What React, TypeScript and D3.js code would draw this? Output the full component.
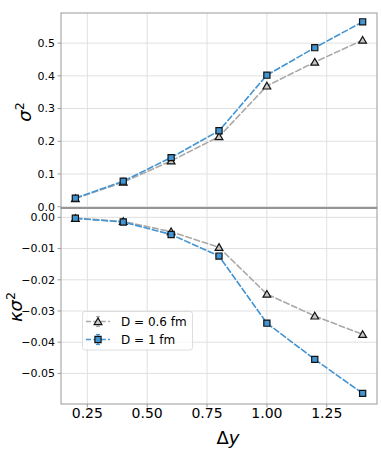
import React, { useEffect, useRef } from "react";
import * as d3 from "d3";

// delta y values
const dy = [0.2, 0.4, 0.6, 0.8, 1.0, 1.2, 1.4];

// sigma^2
const sigma2D06 = [0.025, 0.075, 0.14, 0.214, 0.369, 0.442, 0.509];
const sigma2D1 = [0.026, 0.078, 0.15, 0.232, 0.402, 0.486, 0.565];

// kappa sigma^2
const kappaD06 = [-0.0003, -0.0013, -0.0046, -0.0096, -0.0246, -0.0316, -0.0375];
const kappaD1 = [-0.0003, -0.0015, -0.0055, -0.0124, -0.0339, -0.0455, -0.0564];

const xTicks = [0.25, 0.5, 0.75, 1.0, 1.25];
const topTicks = [0.0, 0.1, 0.2, 0.3, 0.4, 0.5];
const botTicks = [0.0, -0.01, -0.02, -0.03, -0.04, -0.05];

const seriesLabels = ["D = 0.6 fm", "D = 1 fm"];

const GRAY = "#a9a9a9";
const BLUE = "#4394d2";

const App = () => {
  const svgRef = useRef<SVGSVGElement>(null);

  useEffect(() => {
    const svg = d3.select(svgRef.current);
    svg.selectAll("*").remove();

    const left = 61, right = 377, top = 13, mid = 208, bottom = 404;

    const x = d3.scaleLinear().domain([0.14, 1.46]).range([left, right]);
    const yTop = d3.scaleLinear().domain([-0.004, 0.592]).range([mid, top]);
    const yBot = d3.scaleLinear().domain([0.003, -0.0598]).range([mid, bottom]);

    const font = "DejaVu Sans, sans-serif";

    const panel = (y: d3.ScaleLinear<number, number>, ticks: number[], fmt: (v: number) => string, y0: number, y1: number) => {
      const g = svg.append("g");
      // grid
      g.selectAll(".vg").data(xTicks).enter().append("line")
        .attr("x1", (d) => x(d)).attr("x2", (d) => x(d))
        .attr("y1", y0).attr("y2", y1)
        .attr("stroke", "#dcdcdc").attr("stroke-width", 0.9);
      g.selectAll(".hg").data(ticks).enter().append("line")
        .attr("x1", left).attr("x2", right)
        .attr("y1", (d) => y(d)).attr("y2", (d) => y(d))
        .attr("stroke", "#dcdcdc").attr("stroke-width", 0.9);
      // tick marks + labels
      g.selectAll(".tk").data(ticks).enter().append("line")
        .attr("x1", left - 3.5).attr("x2", left)
        .attr("y1", (d) => y(d)).attr("y2", (d) => y(d))
        .attr("stroke", "#888").attr("stroke-width", 0.8);
      g.selectAll(".tl").data(ticks).enter().append("text")
        .attr("x", left - 6).attr("y", (d) => y(d))
        .attr("dy", "0.35em").attr("text-anchor", "end")
        .attr("font-family", font).attr("font-size", 11)
        .text((d) => fmt(d));
      // frame
      g.append("rect").attr("x", left).attr("y", y0)
        .attr("width", right - left).attr("height", y1 - y0)
        .attr("fill", "none").attr("stroke", "#999").attr("stroke-width", 1);
    };

    const fmtTop = (v: number) => v.toFixed(1);
    const fmtBot = (v: number) => (v < 0 ? "\u2212" + Math.abs(v).toFixed(2) : v.toFixed(2));
    panel(yTop, topTicks, fmtTop, top, mid);
    panel(yBot, botTicks, fmtBot, mid, bottom);

    // separator between panels
    svg.append("line").attr("x1", left).attr("x2", right)
      .attr("y1", mid).attr("y2", mid)
      .attr("stroke", "#8c8c8c").attr("stroke-width", 1.6);

    // x tick marks + labels
    svg.selectAll(".xt").data(xTicks).enter().append("line")
      .attr("x1", (d) => x(d)).attr("x2", (d) => x(d))
      .attr("y1", bottom).attr("y2", bottom + 3.5)
      .attr("stroke", "#888").attr("stroke-width", 0.8);
    svg.selectAll(".xl").data(xTicks).enter().append("text")
      .attr("x", (d) => x(d)).attr("y", bottom + 14)
      .attr("text-anchor", "middle").attr("font-family", font).attr("font-size", 14)
      .text((d) => d.toFixed(2));

    const drawSeries = (yScale: d3.ScaleLinear<number, number>, vals: number[], color: string, marker: string) => {
      const pts = dy.map((d, i) => [x(d), yScale(vals[i])] as [number, number]);
      svg.append("path").attr("d", d3.line()(pts))
        .attr("fill", "none").attr("stroke", color).attr("stroke-width", 1.6)
        .attr("stroke-dasharray", "7,1.6");
      const sym = d3.symbol().type(marker === "tri" ? d3.symbolTriangle : d3.symbolSquare)
        .size(marker === "tri" ? 26 : 38);
      svg.selectAll(null).data(pts).enter().append("path")
        .attr("d", sym()!)
        .attr("transform", (p) => `translate(${p[0]},${p[1] + (marker === "tri" ? 0.8 : 0)})`)
        .attr("fill", marker === "tri" ? "#c8c8c8" : color)
        .attr("stroke", "#111").attr("stroke-width", 1.2);
    };

    drawSeries(yTop, sigma2D06, GRAY, "tri");
    drawSeries(yTop, sigma2D1, BLUE, "sq");
    drawSeries(yBot, kappaD06, GRAY, "tri");
    drawSeries(yBot, kappaD1, BLUE, "sq");

    // legend
    const lg = svg.append("g");
    lg.append("rect").attr("x", 82.5).attr("y", 311.5).attr("width", 110).attr("height", 38.5)
      .attr("rx", 2.5).attr("fill", "white").attr("fill-opacity", 0.8)
      .attr("stroke", "#d6d6d6").attr("stroke-width", 0.8);
    [GRAY, BLUE].forEach((c, i) => {
      const cy = 321.5 + i * 18;
      lg.append("line").attr("x1", 86).attr("x2", 110).attr("y1", cy).attr("y2", cy)
        .attr("stroke", c).attr("stroke-width", 1.6).attr("stroke-dasharray", "5,2.4");
      lg.append("line").attr("x1", 98).attr("x2", 98).attr("y1", cy - 5).attr("y2", cy + 5)
        .attr("stroke", c).attr("stroke-width", 1.2);
      lg.append("line").attr("x1", 96).attr("x2", 100).attr("y1", cy - 5).attr("y2", cy - 5)
        .attr("stroke", c).attr("stroke-width", 1.2);
      lg.append("line").attr("x1", 96).attr("x2", 100).attr("y1", cy + 5).attr("y2", cy + 5)
        .attr("stroke", c).attr("stroke-width", 1.2);
      const sym = d3.symbol().type(i === 0 ? d3.symbolTriangle : d3.symbolSquare).size(i === 0 ? 26 : 38);
      lg.append("path").attr("d", sym()!)
        .attr("transform", `translate(98,${cy + (i === 0 ? 0.8 : 0)})`)
        .attr("fill", i === 0 ? "#c8c8c8" : c).attr("stroke", "#111").attr("stroke-width", 1.2);
      lg.append("text").attr("x", 121).attr("y", cy).attr("dy", "0.35em")
        .attr("font-family", font).attr("font-size", 12).text(seriesLabels[i]);
    });

    // axis labels
    svg.append("text")
      .attr("transform", `translate(31,112) rotate(-90)`)
      .attr("text-anchor", "middle").attr("font-family", font).attr("font-size", 18)
      .html('<tspan font-style="italic">σ</tspan><tspan dy="-7" font-size="12.5">2</tspan>');
    svg.append("text")
      .attr("transform", `translate(22,307) rotate(-90)`)
      .attr("text-anchor", "middle").attr("font-family", font).attr("font-size", 18)
      .html('<tspan font-style="italic">κσ</tspan><tspan dy="-7" font-size="12.5">2</tspan>');
    svg.append("text")
      .attr("x", 228).attr("y", 444)
      .attr("text-anchor", "middle").attr("font-family", font).attr("font-size", 18)
      .html('Δ<tspan font-style="italic">y</tspan>');
  }, []);

  return (
    <svg ref={svgRef} width={381} height={463}
      style={{ position: "absolute", left: 0, top: 0, background: "white" }} />
  );
};

export default App;
